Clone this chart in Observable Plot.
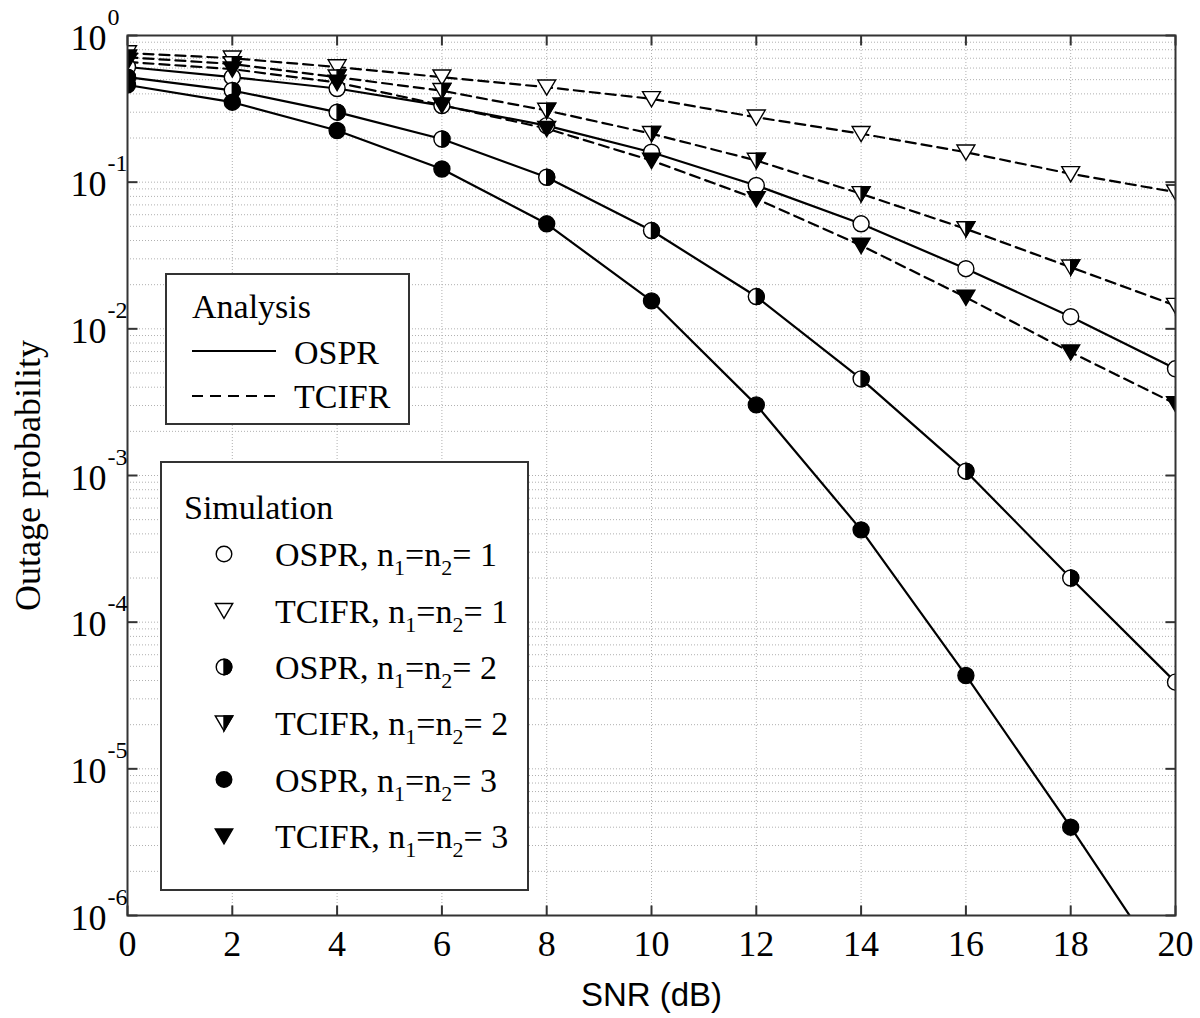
<!DOCTYPE html>
<html>
<head>
<meta charset="utf-8">
<script src="https://cdn.jsdelivr.net/npm/d3@7"></script>
<script src="https://cdn.jsdelivr.net/npm/@observablehq/plot@0.6"></script>
<style>
  html, body { margin: 0; padding: 0; background: #fff; }
  #chart { width: 1200px; height: 1018px; }
</style>
</head>
<body>
<div id="chart"></div>
<script>
// ---------------- data ----------------
const snr = [0, 2, 4, 6, 8, 10, 12, 14, 16, 18, 20];

const osprN1  = [0.61, 0.52, 0.435, 0.333, 0.243, 0.160, 0.095, 0.052, 0.0257, 0.0121, 0.00534];
const osprN2  = [0.52, 0.422, 0.30, 0.197, 0.108, 0.0468, 0.0166, 0.00456, 1.07e-3, 2.0e-4, 3.9e-5];
const osprN3  = [0.46, 0.351, 0.225, 0.123, 0.052, 0.0155, 0.00303, 4.26e-4, 4.33e-5, 4.0e-6, 3.4e-7];
const tcifrN1 = [0.76, 0.70, 0.61, 0.52, 0.444, 0.370, 0.277, 0.214, 0.160, 0.114, 0.0855];
const tcifrN2 = [0.71, 0.64, 0.52, 0.42, 0.308, 0.214, 0.1405, 0.0833, 0.048, 0.0263, 0.0144];
const tcifrN3 = [0.66, 0.59, 0.478, 0.335, 0.232, 0.1405, 0.077, 0.037, 0.0164, 0.00693, 0.00308];

const xTicks = [0, 2, 4, 6, 8, 10, 12, 14, 16, 18, 20];
const yMajor = [1, 1e-1, 1e-2, 1e-3, 1e-4, 1e-5, 1e-6];
const yExponents = ["0", "-1", "-2", "-3", "-4", "-5", "-6"];

const xLabel = "SNR (dB)";
const yLabel = "Outage probability";
const analysisTitle = "Analysis";
const analysisNames = ["OSPR", "TCIFR"];
const simulationTitle = "Simulation";
const simSchemes = ["OSPR", "TCIFR", "OSPR", "TCIFR", "OSPR", "TCIFR"];
const simOrders  = ["1", "1", "2", "2", "3", "3"];

// ---------------- table built from the arrays ----------------
const seriesDefs = [
  {scheme: "OSPR", n: 1, values: osprN1},
  {scheme: "OSPR", n: 2, values: osprN2},
  {scheme: "OSPR", n: 3, values: osprN3},
  {scheme: "TCIFR", n: 1, values: tcifrN1},
  {scheme: "TCIFR", n: 2, values: tcifrN2},
  {scheme: "TCIFR", n: 3, values: tcifrN3}
];
const rows = seriesDefs.flatMap(s => s.values.map((v, i) => ({snr: snr[i], p: v, scheme: s.scheme, n: s.n, key: s.scheme + s.n})));
const sel = (scheme, n) => rows.filter(d => d.scheme === scheme && d.n === n);

// minor + major horizontal grid positions
const yGrid = d3.merge(d3.range(-6, 0).map(e => d3.range(1, 10).map(m => m * Math.pow(10, e)))).concat([1]);

// ---------------- custom symbols ----------------
const triDown = {draw(ctx, size) {
  const r = Math.sqrt(size / Math.PI), a = r * 1.12;
  ctx.moveTo(-a, -r * 0.9); ctx.lineTo(a, -r * 0.9); ctx.lineTo(0, r); ctx.closePath();
}};
const triDownRight = {draw(ctx, size) {
  const r = Math.sqrt(size / Math.PI), a = r * 1.12;
  ctx.moveTo(0, -r * 0.9); ctx.lineTo(a, -r * 0.9); ctx.lineTo(0, r); ctx.closePath();
}};
const discRight = {draw(ctx, size) {
  const r = Math.sqrt(size / Math.PI);
  ctx.moveTo(0, -r); ctx.arc(0, 0, r, -Math.PI / 2, Math.PI / 2); ctx.closePath();
}};
const circleSym = {draw(ctx, size) {
  const r = Math.sqrt(size / Math.PI);
  ctx.moveTo(r, 0); ctx.arc(0, 0, r, 0, 2 * Math.PI); ctx.closePath();
}};
const tickUp = {draw(ctx) { ctx.moveTo(0, 0); ctx.lineTo(0, -10); }};
const tickDown = {draw(ctx) { ctx.moveTo(0, 0); ctx.lineTo(0, 10); }};
const tickRight = {draw(ctx) { ctx.moveTo(0, 0); ctx.lineTo(10, 0); }};
const tickLeft = {draw(ctx) { ctx.moveTo(0, 0); ctx.lineTo(-10, 0); }};

const serif = "'Liberation Serif', 'DejaVu Serif', serif";
const sans = "'Liberation Sans', Arial, sans-serif";
const R = 8;
const mk = {stroke: "black", strokeWidth: 1.4, r: R, clip: true};

const chart = Plot.plot({
  width: 1200,
  height: 1018,
  marginLeft: 127,
  marginRight: 25,
  marginTop: 35,
  marginBottom: 103,
  style: {background: "white", overflow: "visible"},
  x: {domain: [0, 20], axis: null},
  y: {type: "log", domain: [1e-6, 1], axis: null},
  marks: [
    // grid
    Plot.ruleY(yGrid, {y: d => d, stroke: "#b0b0b0", strokeWidth: 1, strokeDasharray: "1,2"}),
    Plot.ruleX(xTicks.slice(1, -1), {x: d => d, stroke: "#b0b0b0", strokeWidth: 1, strokeDasharray: "1,2"}),
    // analysis curves
    Plot.line(rows.filter(d => d.scheme === "OSPR"), {x: "snr", y: "p", z: "key", stroke: "black", strokeWidth: 2.2, clip: true}),
    Plot.line(rows.filter(d => d.scheme === "TCIFR"), {x: "snr", y: "p", z: "key", stroke: "black", strokeWidth: 2.2, strokeDasharray: "10,6", clip: true}),
    // simulation markers
    Plot.dot(sel("OSPR", 1), {x: "snr", y: "p", symbol: circleSym, fill: "white", ...mk}),
    Plot.dot(sel("TCIFR", 1), {x: "snr", y: "p", symbol: triDown, fill: "white", ...mk}),
    Plot.dot(sel("OSPR", 2), {x: "snr", y: "p", symbol: circleSym, fill: "white", ...mk}),
    Plot.dot(sel("OSPR", 2), {x: "snr", y: "p", symbol: discRight, fill: "black", ...mk}),
    Plot.dot(sel("TCIFR", 2), {x: "snr", y: "p", symbol: triDown, fill: "white", ...mk}),
    Plot.dot(sel("TCIFR", 2), {x: "snr", y: "p", symbol: triDownRight, fill: "black", ...mk}),
    Plot.dot(sel("OSPR", 3), {x: "snr", y: "p", symbol: circleSym, fill: "black", ...mk}),
    Plot.dot(sel("TCIFR", 3), {x: "snr", y: "p", symbol: triDown, fill: "black", ...mk}),
    // inward ticks
    Plot.dot(xTicks, {x: d => d, frameAnchor: "bottom", symbol: tickUp, stroke: "#333", strokeWidth: 2, fill: "none"}),
    Plot.dot(xTicks, {x: d => d, frameAnchor: "top", symbol: tickDown, stroke: "#333", strokeWidth: 2, fill: "none"}),
    Plot.dot(yMajor, {y: d => d, frameAnchor: "left", symbol: tickRight, stroke: "#333", strokeWidth: 2, fill: "none"}),
    Plot.dot(yMajor, {y: d => d, frameAnchor: "right", symbol: tickLeft, stroke: "#333", strokeWidth: 2, fill: "none"}),
    Plot.frame({stroke: "#333", strokeWidth: 2}),
    // tick labels
    Plot.text(xTicks, {x: d => d, text: d => String(d), frameAnchor: "bottom", textAnchor: "middle", lineAnchor: "bottom", dy: 40, fontSize: 36, fontFamily: serif, fill: "black"}),
    Plot.text(yMajor, {y: d => d, text: () => "10", frameAnchor: "left", textAnchor: "end", lineAnchor: "bottom", dx: -21, dy: 14, fontSize: 36, fontFamily: serif, fill: "black"}),
    Plot.text(yMajor, {y: d => d, text: (d, i) => yExponents[i], frameAnchor: "left", textAnchor: "start", lineAnchor: "bottom", dx: -20, dy: -11, fontSize: 24, fontFamily: serif, fill: "black"}),
    // axis titles
    Plot.text([xLabel], {frameAnchor: "bottom", textAnchor: "middle", lineAnchor: "bottom", dy: 90, fontSize: 33, fontFamily: sans, fill: "black"}),
    Plot.text([yLabel], {frameAnchor: "left", textAnchor: "middle", rotate: -90, lineAnchor: "middle", dx: -99, fontSize: 36, fontFamily: serif, fill: "black"})
  ]
});

document.getElementById("chart").appendChild(chart);

// ---------------- legends ----------------
const svg = d3.select(chart);
const symPath = (sym, r) => { const p = d3.path(); sym.draw(p, Math.PI * r * r); return p.toString(); };

// Analysis legend
const la = svg.append("g").attr("font-family", serif).attr("font-size", 34).attr("fill", "black").attr("text-anchor", "start");
la.append("rect").attr("x", 166).attr("y", 274).attr("width", 243).attr("height", 150)
  .attr("fill", "white").attr("stroke", "#333").attr("stroke-width", 2);
la.append("text").attr("x", 192).attr("y", 318).text(analysisTitle);
la.append("line").attr("x1", 192).attr("x2", 276).attr("y1", 351).attr("y2", 351)
  .attr("stroke", "black").attr("stroke-width", 2.2);
la.append("text").attr("x", 294).attr("y", 364).text(analysisNames[0]);
la.append("line").attr("x1", 192).attr("x2", 276).attr("y1", 396).attr("y2", 396)
  .attr("stroke", "black").attr("stroke-width", 2.2).attr("stroke-dasharray", "11,7");
la.append("text").attr("x", 294).attr("y", 408).text(analysisNames[1]);

// Simulation legend
const ls = svg.append("g").attr("font-family", serif).attr("font-size", 34).attr("fill", "black").attr("text-anchor", "start");
ls.append("rect").attr("x", 161).attr("y", 462).attr("width", 367).attr("height", 428)
  .attr("fill", "white").attr("stroke", "#333").attr("stroke-width", 2);
ls.append("text").attr("x", 184).attr("y", 519).text(simulationTitle);
const baselines = [566, 622.5, 679, 735, 791.5, 848];
const legendSyms = [
  [[circleSym, "white"]],
  [[triDown, "white"]],
  [[circleSym, "white"], [discRight, "black"]],
  [[triDown, "white"], [triDownRight, "black"]],
  [[circleSym, "black"]],
  [[triDown, "black"]]
];
baselines.forEach((b, i) => {
  const g = ls.append("g").attr("transform", `translate(224,${b - 12})`);
  legendSyms[i].forEach(([sym, fill]) => {
    g.append("path").attr("d", symPath(sym, 7.8)).attr("fill", fill)
      .attr("stroke", "black").attr("stroke-width", 1.4);
  });
  const t = ls.append("text").attr("x", 275).attr("y", b);
  t.append("tspan").text(simSchemes[i] + ", n");
  t.append("tspan").attr("font-size", 22).attr("dy", 9).text("1");
  t.append("tspan").attr("dy", -9).text("=n");
  t.append("tspan").attr("font-size", 22).attr("dy", 9).text("2");
  t.append("tspan").attr("dy", -9).text("= " + simOrders[i]);
});
</script>
</body>
</html>
